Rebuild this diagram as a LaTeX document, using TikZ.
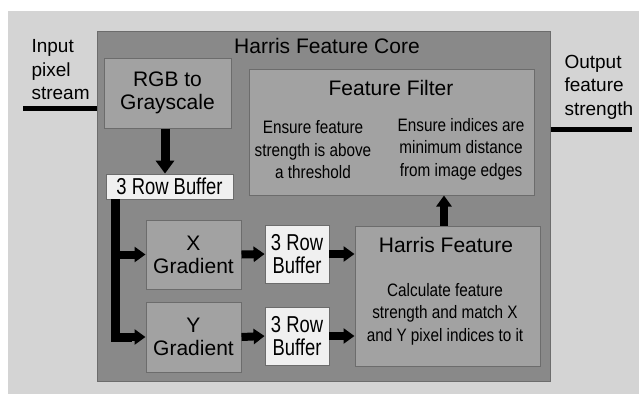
\documentclass[tikz,border=0pt]{standalone}
\usepackage{fontspec}
\setmainfont{Liberation Sans}
\newfontfamily\narrowfont[FakeStretch=0.85]{Liberation Sans}
\newfontfamily\bufffont[FakeStretch=0.8]{Liberation Sans}
\usetikzlibrary{arrows.meta}
\definecolor{bgc}{HTML}{D4D4D4}
\definecolor{corec}{HTML}{898989}
\definecolor{boxc}{HTML}{A2A2A2}
\definecolor{bufc}{HTML}{F0F0F0}
\definecolor{edgec}{HTML}{6C6C6C}
\begin{document}
\begin{tikzpicture}[x=1pt,y=-1pt,
  blk/.style={draw=edgec,line width=1pt,fill=boxc,inner sep=0pt},
  bufbox/.style={draw=edgec,line width=0.8pt,fill=bufc,inner sep=0pt},
  big/.style={font=\fontsize{21}{23}\selectfont,align=center},
  small/.style={font=\narrowfont\fontsize{18}{22.5}\selectfont,align=center},
  bufft/.style={font=\bufffont\fontsize{23}{23.5}\selectfont,align=center},
  side/.style={font=\fontsize{19}{23.5}\selectfont,align=left},
  fatarrow/.style={line width=9pt,-{Triangle[length=13pt,width=18pt]}},
  midarrow/.style={line width=8pt,-{Triangle[length=11pt,width=15pt]}},
  wire/.style={line width=5pt}]
\useasboundingbox (0,0) rectangle (639,394);
\fill[white] (0,0) rectangle (639,394);
\fill[bgc] (8,11) rectangle (639,394);
% core
\node[draw=edgec,line width=1pt,fill=corec,minimum width=453pt,minimum height=350pt,inner sep=0pt] (core) at (323.5,206) {};
\node[big] (coret) at (327,46) {Harris Feature Core};
% blocks
\node[blk,minimum width=127pt,minimum height=70pt,big] (rgb) at (167.5,93) {RGB to\\Grayscale};
\node[bufbox,minimum width=127pt,minimum height=25pt,bufft] (buf1) at (169.5,186.5) {3 Row Buffer};
\node[blk,minimum width=285pt,minimum height=126pt] (ff) at (391.5,132) {};
\node[big] (fft) at (391,88) {Feature Filter};
\node[small] (ffl) at (313,150) {Ensure feature\\strength is above\\a threshold};
\node[small] (ffr) at (461,149) {Ensure indices are\\minimum distance\\from image edges};
\node[blk,minimum width=95pt,minimum height=69pt,big] (xg) at (193.5,254.5) {X\\Gradient};
\node[blk,minimum width=95pt,minimum height=70pt,big] (yg) at (193.5,337) {Y\\Gradient};
\node[bufbox,minimum width=64pt,minimum height=58pt,bufft] (b2) at (297,254) {3 Row\\Buffer};
\node[bufbox,minimum width=64pt,minimum height=58pt,bufft] (b3) at (297,336) {3 Row\\Buffer};
\node[blk,minimum width=185pt,minimum height=140pt] (hf) at (447.5,296) {};
\node[big] (hft) at (446,245) {Harris Feature};
\node[small] (hfb) at (445,314) {Calculate feature\\strength and match X\\and Y pixel indices to it};
% side texts
\node[side,anchor=west] (inp) at (28,70) {Input\\pixel\\stream};
\node[side,anchor=west] (outp) at (561,87) {Output\\feature\\strength};
% wires
\coordinate (inL) at (23,108);
\coordinate (outR) at (632,129);
\draw[wire] (inL) -- (inL -| core.west);
\draw[wire] (outR -| core.east) -- (outR);
% arrows
\coordinate (ax) at (165,0);
\draw[fatarrow] (rgb.south -| ax) -- (buf1.north -| ax);
\coordinate (bx) at (115,199);
\draw[line width=9pt] (bx) -- (bx |- yg.west) -- ([xshift=-14pt]yg.west);
\draw[midarrow] ([xshift=-16pt]yg.west) -- (yg.west);
\draw[midarrow] (bx |- xg.west) -- (xg.west);
\draw[midarrow] (xg.east) -- (b2.west);
\draw[midarrow] (yg.east) -- (b3.west);
\draw[midarrow] (b2.east) -- (b2.east -| hf.west);
\draw[midarrow] (b3.east) -- (b3.east -| hf.west);
\coordinate (hx) at (444,0);
\draw[midarrow] (hf.north -| hx) -- (ff.south -| hx);
\end{tikzpicture}
\end{document}
